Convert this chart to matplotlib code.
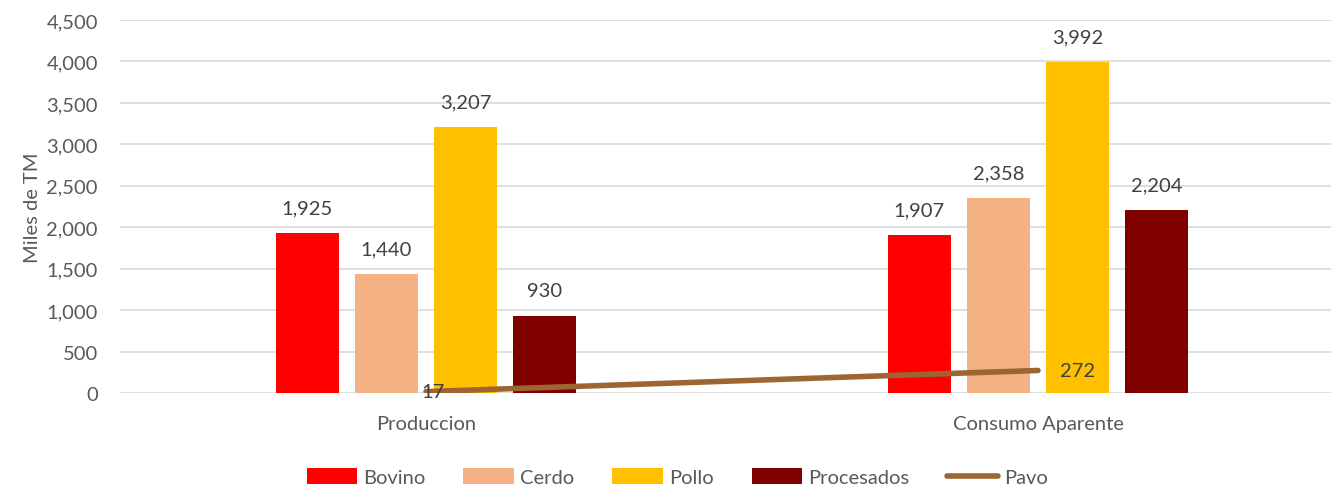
import matplotlib
matplotlib.use("Agg")
import matplotlib.pyplot as plt
import numpy as np

plt.rcParams['font.family'] = ['Lato', 'DejaVu Sans']

categorias = ["Produccion", "Consumo Aparente"]
bovino = [1925, 1907]
cerdo = [1440, 2358]
pollo = [3207, 3992]
procesados = [930, 2204]
pavo = [17, 272]

series = [("Bovino", bovino, "#FF0000"),
          ("Cerdo", cerdo, "#F4B183"),
          ("Pollo", pollo, "#FFC000"),
          ("Procesados", procesados, "#800000")]

fig = plt.figure(figsize=(13.31, 4.89), dpi=100)
ax = fig.add_axes([120 / 1331, 1 - 394 / 489, 1 - 120 / 1331, (394 - 21) / 489])

x = np.arange(len(categorias))
ancho = 0.103
offsets = [-0.194, -0.0645, 0.065, 0.194]
fs = 14.5

for (nombre, vals, color), off in zip(series, offsets):
    barras = ax.bar(x + off, vals, width=ancho, color=color, label=nombre, zorder=2)
    for b, v in zip(barras, vals):
        ax.annotate(f"{v:,}", (b.get_x() + b.get_width() / 2, v), xytext=(0, 12),
                    textcoords="offset points", ha="center", va="bottom",
                    fontsize=fs, color="#404040")

ax.plot(x, pavo, color="#9C6531", lw=4, label="Pavo", zorder=3, solid_capstyle="round")
ax.annotate(f"{pavo[0]:,}", (x[0], pavo[0]), xytext=(5, 0), textcoords="offset points",
            ha="center", va="center", fontsize=fs, color="#404040", zorder=4)
ax.annotate(f"{pavo[1]:,}", (x[1], pavo[1]), xytext=(16, 0), textcoords="offset points",
            ha="left", va="center", fontsize=fs, color="#404040", zorder=4)

ax.set_xlim(-0.5, (1331 - 426) / 612)
ax.set_ylim(0, 4500)
ax.set_yticks(range(0, 4501, 500))
ax.set_yticklabels([f"{t:,}" for t in range(0, 4501, 500)])
ax.set_xticks(x)
ax.set_xticklabels(categorias)
ax.tick_params(axis="both", length=0, labelsize=fs, colors="#595959")
ax.tick_params(axis="y", pad=16)
ax.tick_params(axis="x", pad=16)
ax.grid(axis="y", color="#D9D9D9", lw=1.2, zorder=0)
for s in ax.spines.values():
    s.set_visible(False)
ax.set_ylabel("Miles de TM", fontsize=fs, color="#595959", labelpad=4)

h, l = ax.get_legend_handles_labels()
orden = ["Bovino", "Cerdo", "Pollo", "Procesados", "Pavo"]
h = [h[l.index(n)] for n in orden]
ax.legend(h, orden, loc="center", bbox_to_anchor=((677 - 120) / 1211, (394 - 478) / 373),
          ncol=5, frameon=False, fontsize=fs, labelcolor="#595959", handlelength=2.5,
          handleheight=0.8, handletextpad=0.3, columnspacing=1.9)

fig.savefig("out.png", dpi=100)
